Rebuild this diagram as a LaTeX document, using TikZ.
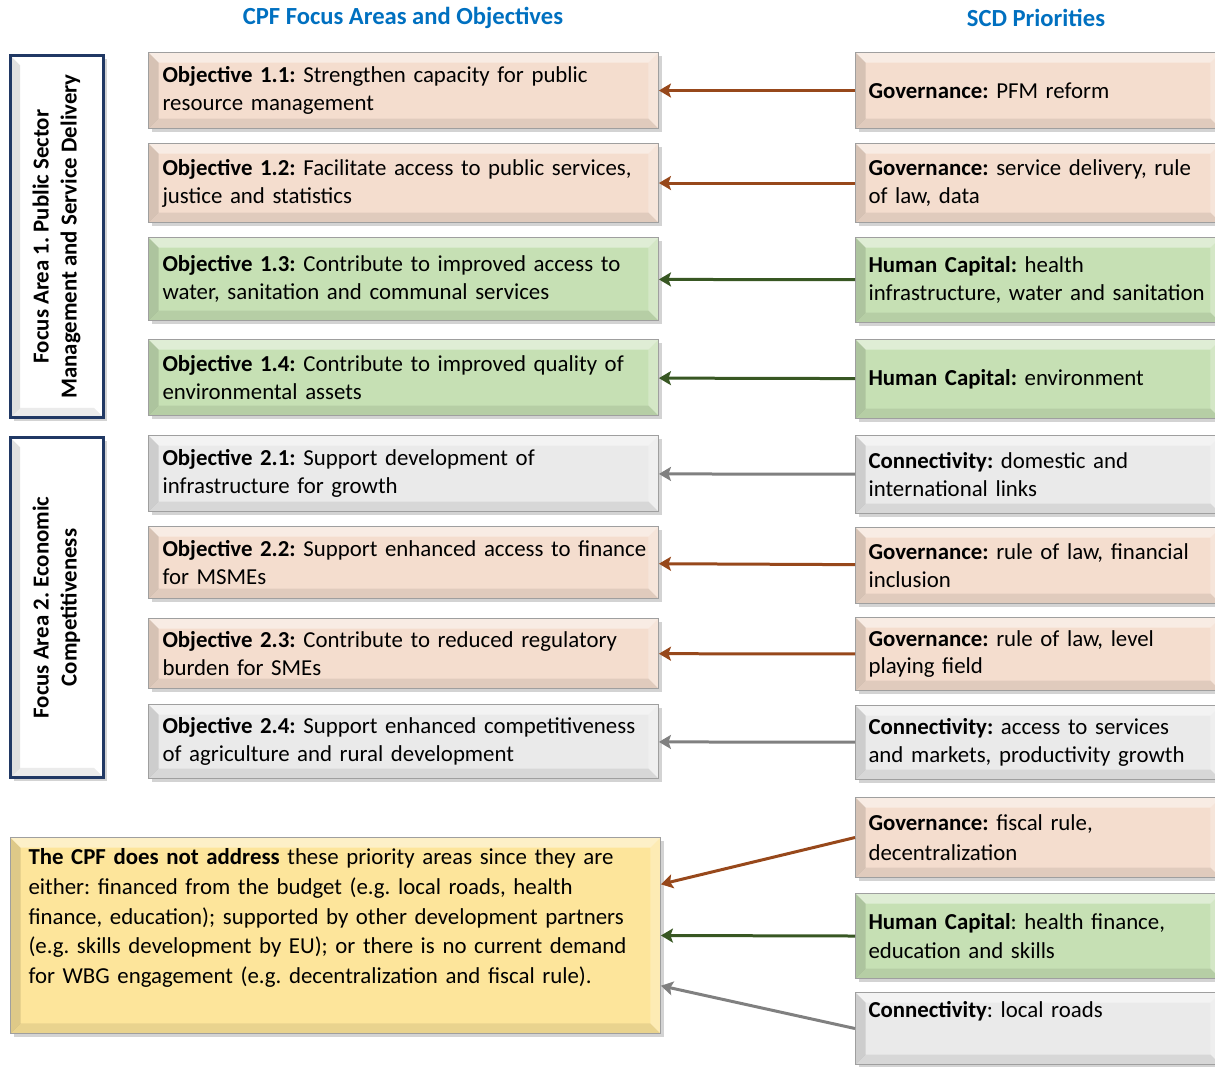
\documentclass[tikz,border=0pt]{standalone}
\usepackage{fontspec}
\setmainfont{Carlito}
\usetikzlibrary{arrows.meta,shadows,calc}
\frenchspacing
\hyphenpenalty=10000
\definecolor{peach}{RGB}{244,221,206}
\definecolor{leaf}{RGB}{198,224,180}
\definecolor{pale}{RGB}{234,234,234}
\definecolor{sand}{RGB}{253,229,155}
\definecolor{navy}{RGB}{32,56,100}
\definecolor{hdblue}{RGB}{0,112,192}
\definecolor{brn}{RGB}{151,72,27}
\definecolor{grn}{RGB}{56,87,35}
\definecolor{gry}{RGB}{128,128,128}
\begin{document}
\begin{tikzpicture}[x=0.02cm, y=-0.02cm,
    every node/.style={font=\fontsize{13}{15.9}\selectfont},
    bev/.style={path picture={
        \fill[black,opacity=.12] (path picture bounding box.south west) -- (path picture bounding box.north west)
            -- ([shift={(.2cm,-.2cm)}]path picture bounding box.north west) -- ([shift={(.2cm,.2cm)}]path picture bounding box.south west) -- cycle;
        \fill[white,opacity=.45] (path picture bounding box.north west) -- (path picture bounding box.north east)
            -- ([shift={(-.2cm,-.2cm)}]path picture bounding box.north east) -- ([shift={(.2cm,-.2cm)}]path picture bounding box.north west) -- cycle;
        \fill[white,opacity=.25] (path picture bounding box.north east) -- (path picture bounding box.south east)
            -- ([shift={(-.2cm,.2cm)}]path picture bounding box.south east) -- ([shift={(-.2cm,-.2cm)}]path picture bounding box.north east) -- cycle;
        \fill[black,opacity=.08] (path picture bounding box.south west) -- (path picture bounding box.south east)
            -- ([shift={(-.2cm,.2cm)}]path picture bounding box.south east) -- ([shift={(.2cm,.2cm)}]path picture bounding box.south west) -- cycle;
    }},
    bx/.style={bev, draw=gray!75, line width=0.6pt, anchor=north west, align=left, inner ysep=2pt,
        drop shadow={opacity=.35, shadow xshift=.07cm, shadow yshift=-.07cm}},
    ob/.style={bx, minimum width=10.2cm, text width=9.64cm, inner xsep=.28cm},
    sc/.style={bx, minimum width=7.3cm, text width=6.78cm, inner xsep=.26cm},
    fa/.style={bev, draw=navy, line width=0.06cm, fill=white, minimum width=1.88cm,
        drop shadow={opacity=.35, shadow xshift=.07cm, shadow yshift=-.07cm},
        font=\bfseries\fontsize{13}{15.9}\selectfont},
    hd/.style={text=hdblue, font=\bfseries\fontsize{14}{16}\selectfont},
    ar/.style={-{Stealth[length=2.4mm,width=2.8mm,inset=.5mm]}, line width=0.06cm}]

    \useasboundingbox (0,0) rectangle (1215,1067);

    \node[hd] (h1) at (403,18) {CPF Focus Areas and Objectives};
    \node[hd] (h2) at (1036,18) {SCD Priorities};

    \node[fa, minimum height=7.26cm] (f1) at (57,236.5) {\rotatebox{90}{\begin{tabular}{@{}c@{}}Focus Area 1. Public Sector\\ Management and Service Delivery\end{tabular}}};
    \node[fa, minimum height=6.82cm] (f2) at (57,607.5) {\rotatebox{90}{\begin{tabular}{@{}c@{}}Focus Area 2. Economic\\ Competitiveness\end{tabular}}};

    \node[ob, fill=peach, minimum height=1.52cm] (o11) at (148,52) {\textbf{Objective 1.1:} Strengthen capacity for public\\ resource management};
    \node[ob, fill=peach, minimum height=1.58cm] (o12) at (148,143) {\textbf{Objective 1.2:} Facilitate access to public services,\\ justice and statistics};
    \node[ob, fill=leaf, minimum height=1.66cm] (o13) at (148,237) {\textbf{Objective 1.3:} Contribute to improved access to\\ water, sanitation and communal services};
    \node[ob, fill=leaf, minimum height=1.52cm] (o14) at (148,339) {\textbf{Objective 1.4:} Contribute to improved quality of\\ environmental assets};
    \node[ob, fill=pale, minimum height=1.52cm] (o21) at (148,435) {\textbf{Objective 2.1:} Support development of\\ infrastructure for growth};
    \node[ob, fill=peach, minimum height=1.44cm] (o22) at (148,526) {\mbox{\textbf{Objective 2.2:} Support enhanced access to finance}\\ for MSMEs};
    \node[ob, fill=peach, minimum height=1.40cm] (o23) at (148,618) {\textbf{Objective 2.3:} Contribute to reduced regulatory\\ burden for SMEs};
    \node[ob, fill=pale, minimum height=1.48cm] (o24) at (148,704) {\textbf{Objective 2.4:} Support enhanced competitiveness\\ of agriculture and rural development};

    \node[bx, fill=sand, minimum width=13cm, text width=12.28cm, inner xsep=.36cm, minimum height=3.92cm,
        font=\fontsize{13}{17}\selectfont] (nb) at (10,837) {\textbf{The CPF does not address} these priority areas since they are\\ either: financed from the budget (e.g. local roads, health\\ finance, education); supported by other development partners\\ (e.g. skills development by EU); or there is no current demand\\ for WBG engagement (e.g. decentralization and fiscal rule).\\ \strut};

    \node[sc, fill=peach, minimum height=1.52cm] (s1) at (855,52) {\textbf{Governance:} PFM reform};
    \node[sc, fill=peach, minimum height=1.58cm] (s2) at (855,143) {\textbf{Governance:} service delivery, rule\\ of law, data};
    \node[sc, fill=leaf, minimum height=1.70cm] (s3) at (855,237) {\textbf{Human Capital:} health\\ infrastructure, water and sanitation};
    \node[sc, fill=leaf, minimum height=1.58cm] (s4) at (855,339) {\textbf{Human Capital:} environment};
    \node[sc, fill=pale, minimum height=1.56cm] (s5) at (855,435) {\textbf{Connectivity:} domestic and\\ international links};
    \node[sc, fill=peach, minimum height=1.52cm] (s6) at (855,527) {\textbf{Governance:} rule of law, financial\\ inclusion};
    \node[sc, fill=peach, minimum height=1.46cm] (s7) at (855,617) {\textbf{Governance:} rule of law, level\\ playing field};
    \node[sc, fill=pale, minimum height=1.48cm] (s8) at (855,705) {\textbf{Connectivity:} access to services\\ and markets, productivity growth};
    \node[sc, fill=peach, minimum height=1.60cm, font=\fontsize{13}{17}\selectfont] (s9) at (855,797) {\textbf{Governance:} fiscal rule,\\ decentralization};
    \node[sc, fill=leaf, minimum height=1.70cm, font=\fontsize{13}{17}\selectfont] (s10) at (855,893) {\textbf{Human Capital}: health finance,\\ education and skills};
    \node[sc, fill=pale, minimum height=1.44cm, font=\fontsize{13}{17}\selectfont] (s11) at (855,992) {\textbf{Connectivity}: local roads\\ \strut};

    \draw[ar, brn] (s1) to (o11);
    \draw[ar, brn] (s2) to (o12);
    \draw[ar, grn] (s3) to (o13);
    \draw[ar, grn] (s4) to (o14);

    \draw[ar, gry] (s5) to (o21);
    \draw[ar, brn] (s6) to (o22);
    \draw[ar, brn] (s7) to (o23);
    \draw[ar, gry] (s8) to (o24);

    \draw[ar, brn] (s9.west) to ($(nb.north east)!.24!(nb.south east)$);
    \draw[ar, grn] (s10.west) to (nb.east);
    \draw[ar, gry] (s11.west) to ($(nb.north east)!.755!(nb.south east)$);
\end{tikzpicture}
\end{document}
